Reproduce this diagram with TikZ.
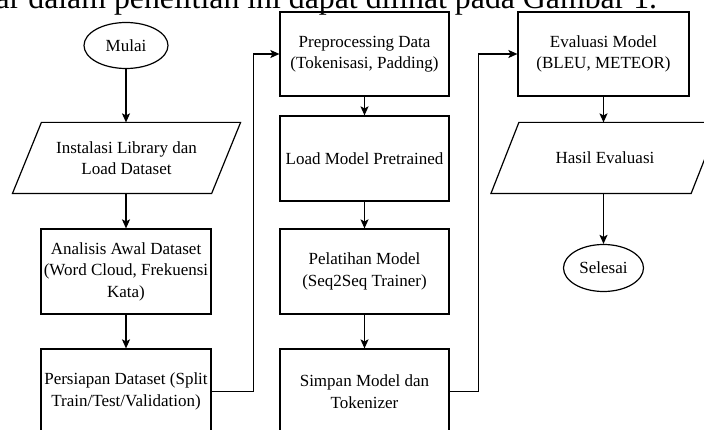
\documentclass[tikz,border=0pt]{standalone}
\usepackage{fontspec}
\setmainfont{Liberation Serif}
\usetikzlibrary{shapes.geometric,arrows.meta}

\begin{document}
\begin{tikzpicture}[x=1pt,y=-1pt,line width=1.2pt,
    font=\fontsize{17}{21.5}\selectfont,
    proses/.style={draw, rectangle, align=center, minimum width=170, minimum height=85, inner sep=1pt},
    terminal/.style={draw, ellipse, minimum width=84, minimum height=46, inner sep=0pt},
    iobox/.style={rectangle, align=center, minimum width=227, minimum height=70, inner sep=0pt},
    panah/.style={-{Stealth[length=9pt,width=8pt,inset=2pt]}}]
    \useasboundingbox (0,0) rectangle (704,430);
    \clip (0,0) rectangle (704,430);

    % teks di atas gambar
    \node[anchor=base east, font=\fontsize{31.8}{38}\selectfont] (kalimat) at (661,9) {ar dalam penelitian ini dapat dilihat pada Gambar 1.};

    % kolom kiri
    \node[terminal] (mulai) at (126,45.5) {Mulai};
    \node[iobox] (instalasi) at (126.5,158) {Instalasi Library dan\\Load Dataset};
    \draw ([xshift=29]instalasi.north west) -- (instalasi.north east) -- ([xshift=-29]instalasi.south east) -- (instalasi.south west) -- cycle;
    \node[proses] (analisis) at (126,271.5) {Analisis Awal Dataset\\(Word Cloud, Frekuensi\\Kata)};
    \node[proses] (persiapan) at (126,391.5) {Persiapan Dataset (Split\\Train/Test/Validation)};

    % kolom tengah
    \node[proses, minimum width=169, minimum height=84] (preproc) at (364.5,54) {Preprocessing Data\\(Tokenisasi, Padding)};
    \node[proses, minimum width=169] (loadmodel) at (364.5,158.5) {Load Model Pretrained};
    \node[proses, minimum width=169] (pelatihan) at (364.5,271.5) {Pelatihan Model\\(Seq2Seq Trainer)};
    \node[proses, minimum width=169] (simpan) at (364.5,391.5) {Simpan Model dan\\Tokenizer};

    % kolom kanan
    \node[proses, minimum width=171, minimum height=84] (evaluasi) at (603.5,54) {Evaluasi Model\\(BLEU, METEOR)};
    \node[iobox] (hasil) at (605,158) {Hasil Evaluasi};
    \draw ([xshift=28]hasil.north west) -- (hasil.north east) -- ([xshift=-28]hasil.south east) -- (hasil.south west) -- cycle;
    \node[terminal, minimum width=80, minimum height=47] (selesai) at (603.5,268) {Selesai};

    % panah
    \draw[panah] (mulai.south) -- (mulai.south |- instalasi.north);
    \draw[panah] (analisis.north |- instalasi.south) -- (analisis.north);
    \draw[panah] (analisis) -- (persiapan);
    \draw[panah] (persiapan.east) -- ++(42,0) |- (preproc.west);
    \draw[panah] (preproc) -- (loadmodel);
    \draw[panah] (loadmodel) -- (pelatihan);
    \draw[panah] (pelatihan) -- (simpan);
    \draw[panah] (simpan.east) -- ++(29,0) |- (evaluasi.west);
    \draw[panah] (evaluasi.south) -- (evaluasi.south |- hasil.north);
    \draw[panah] (evaluasi.south |- hasil.south) -- (selesai.north);
\end{tikzpicture}
\end{document}
